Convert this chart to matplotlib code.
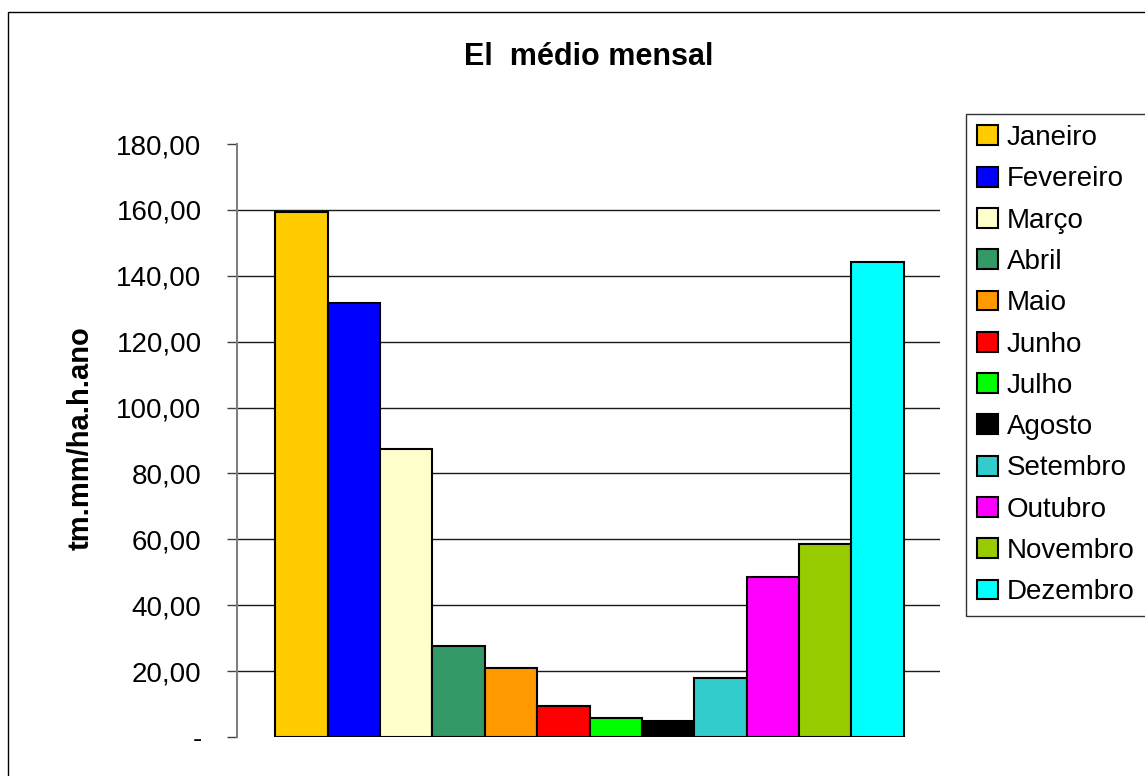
import matplotlib
matplotlib.use("Agg")
import matplotlib.pyplot as plt
from matplotlib.patches import Rectangle
import numpy as np

plt.rcParams['font.family'] = ['Liberation Sans', 'DejaVu Sans']

# data
months = ['Janeiro', 'Fevereiro', 'Março', 'Abril', 'Maio', 'Junho',
          'Julho', 'Agosto', 'Setembro', 'Outubro', 'Novembro', 'Dezembro']
values = [159.4, 131.8, 87.3, 27.7, 21.0, 9.5, 5.9, 4.9, 18.0, 48.5, 58.6, 144.3]
colors = ['#FFCC00', '#0000FF', '#FFFFCC', '#339966', '#FF9900', '#FF0000',
          '#00FF00', '#000000', '#33CCCC', '#FF00FF', '#99CC00', '#00FFFF']
yticks = np.arange(0, 181, 20)

W, H = 1145, 776
fig = plt.figure(figsize=(W / 100, H / 100), dpi=100)
fig.patch.set_facecolor('white')

# plot area in pixels: x 237..940, y 144..737
ax = fig.add_axes([237 / W, 1 - 737 / H, 703 / W, 593 / H])

for i, (m, v, c) in enumerate(zip(months, values, colors)):
    ax.bar(i, v, width=1.0, color=c, edgecolor='black', linewidth=1.5,
           label=m, zorder=3)

ax.set_xlim(-1.23, 12.19)
ax.set_ylim(0, 180)
ax.set_xticks([])
ax.set_yticks(yticks)
ax.set_yticklabels(['-' if v == 0 else f'{v:.2f}'.replace('.', ',') for v in yticks],
                   fontsize=20)
ax.tick_params(axis='y', direction='out', length=7.5, width=1, color='#404040', pad=18)

ax.yaxis.grid(True, color='#1a1a1a', linewidth=1.0, zorder=0)
ax.set_axisbelow(True)
gl = ax.get_ygridlines()
gl[0].set_visible(False)
gl[-1].set_visible(False)

for s in ['top', 'right', 'bottom']:
    ax.spines[s].set_visible(False)
ax.spines['left'].set_color('#808080')
ax.spines['left'].set_linewidth(1.5)

fig.text(588.5 / W, 1 - 57 / H, 'El  médio mensal', ha='center', va='center',
         fontsize=22, fontweight='bold')
fig.text(81 / W, 1 - 438 / H, 'tm.mm/ha.h.ano', ha='center', va='center',
         rotation=90, fontsize=21, fontweight='bold')

leg = ax.legend(loc='upper left', bbox_to_anchor=(966 / W, 1 - 114 / H),
                bbox_transform=fig.transFigure, borderaxespad=0,
                fontsize=20, frameon=True, fancybox=False,
                handlelength=0.75, handleheight=0.72, handletextpad=0.32,
                labelspacing=0.55, borderpad=0.4)
leg.get_frame().set_edgecolor('black')
leg.get_frame().set_linewidth(1.0)

# outer chart border (left and top edges are visible)
fig.add_artist(Rectangle((8 / W, -0.1), 1.2, 1.1 - 12 / H, transform=fig.transFigure,
                         fill=False, edgecolor='black', linewidth=1.0))

fig.savefig('out.png', dpi=100)
